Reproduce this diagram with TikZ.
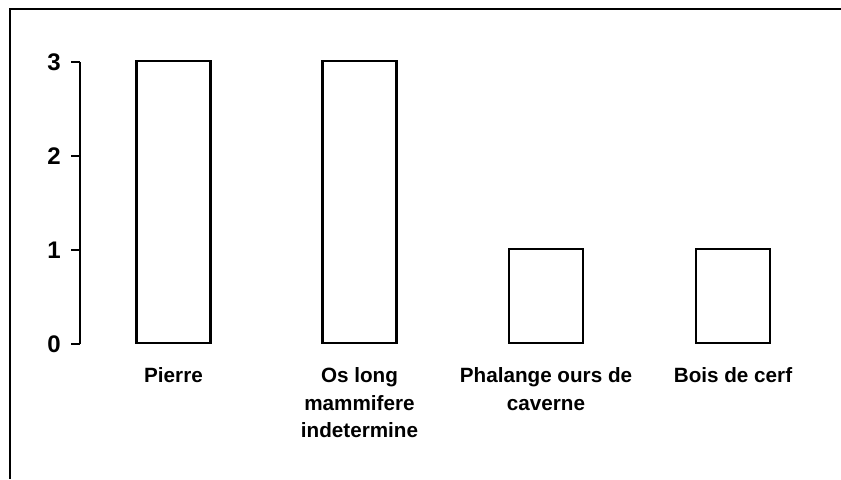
\documentclass[tikz,border=0pt]{standalone}
\usepackage{fontspec}
\setmainfont{Liberation Sans}
\usetikzlibrary{positioning}

\begin{document}
\begin{tikzpicture}[
    x=0.75pt, y=-0.75pt,
    font=\bfseries\fontsize{15.5}{20.6}\selectfont,
    bar/.style={draw, line width=1.6pt, minimum width=55.5pt, anchor=south, inner sep=0pt},
    barlabel/.style={align=center, inner sep=0pt, below=17.5pt of #1},
    ticklabel/.style={left, inner sep=7pt, font=\bfseries\fontsize{18}{20}\selectfont},
  ]
  \useasboundingbox (0,0) rectangle (841,479);

  % Frame
  \draw[line width=1.8pt] (841,9) -- (10,9) -- (10,479);

  % Axis and ticks
  \draw[line width=1.6pt] (80,62) -- (80,344);
  \foreach \y/\lab in {62/3, 156/2, 250/1, 344/0}
    \draw[line width=1.6pt] (80,\y) -- (71,\y) node[ticklabel] (tick\lab) {\lab};

  % Bars
  \node[bar, minimum height=211.5pt] (pierre)   at (173.5,344) {};
  \node[bar, minimum height=211.5pt] (oslong)   at (359.5,344) {};
  \node[bar, minimum height=70.5pt]  (phalange) at (546,344) {};
  \node[bar, minimum height=70.5pt]  (bois)     at (733,344) {};

  % Bar labels
  \node[barlabel=pierre]   (labpierre)   {Pierre};
  \node[barlabel=oslong]   (laboslong)   {Os long\\mammifere\\indetermine};
  \node[barlabel=phalange] (labphalange) {Phalange ours de\\caverne};
  \node[barlabel=bois]     (labbois)     {Bois de cerf};
\end{tikzpicture}
\end{document}
